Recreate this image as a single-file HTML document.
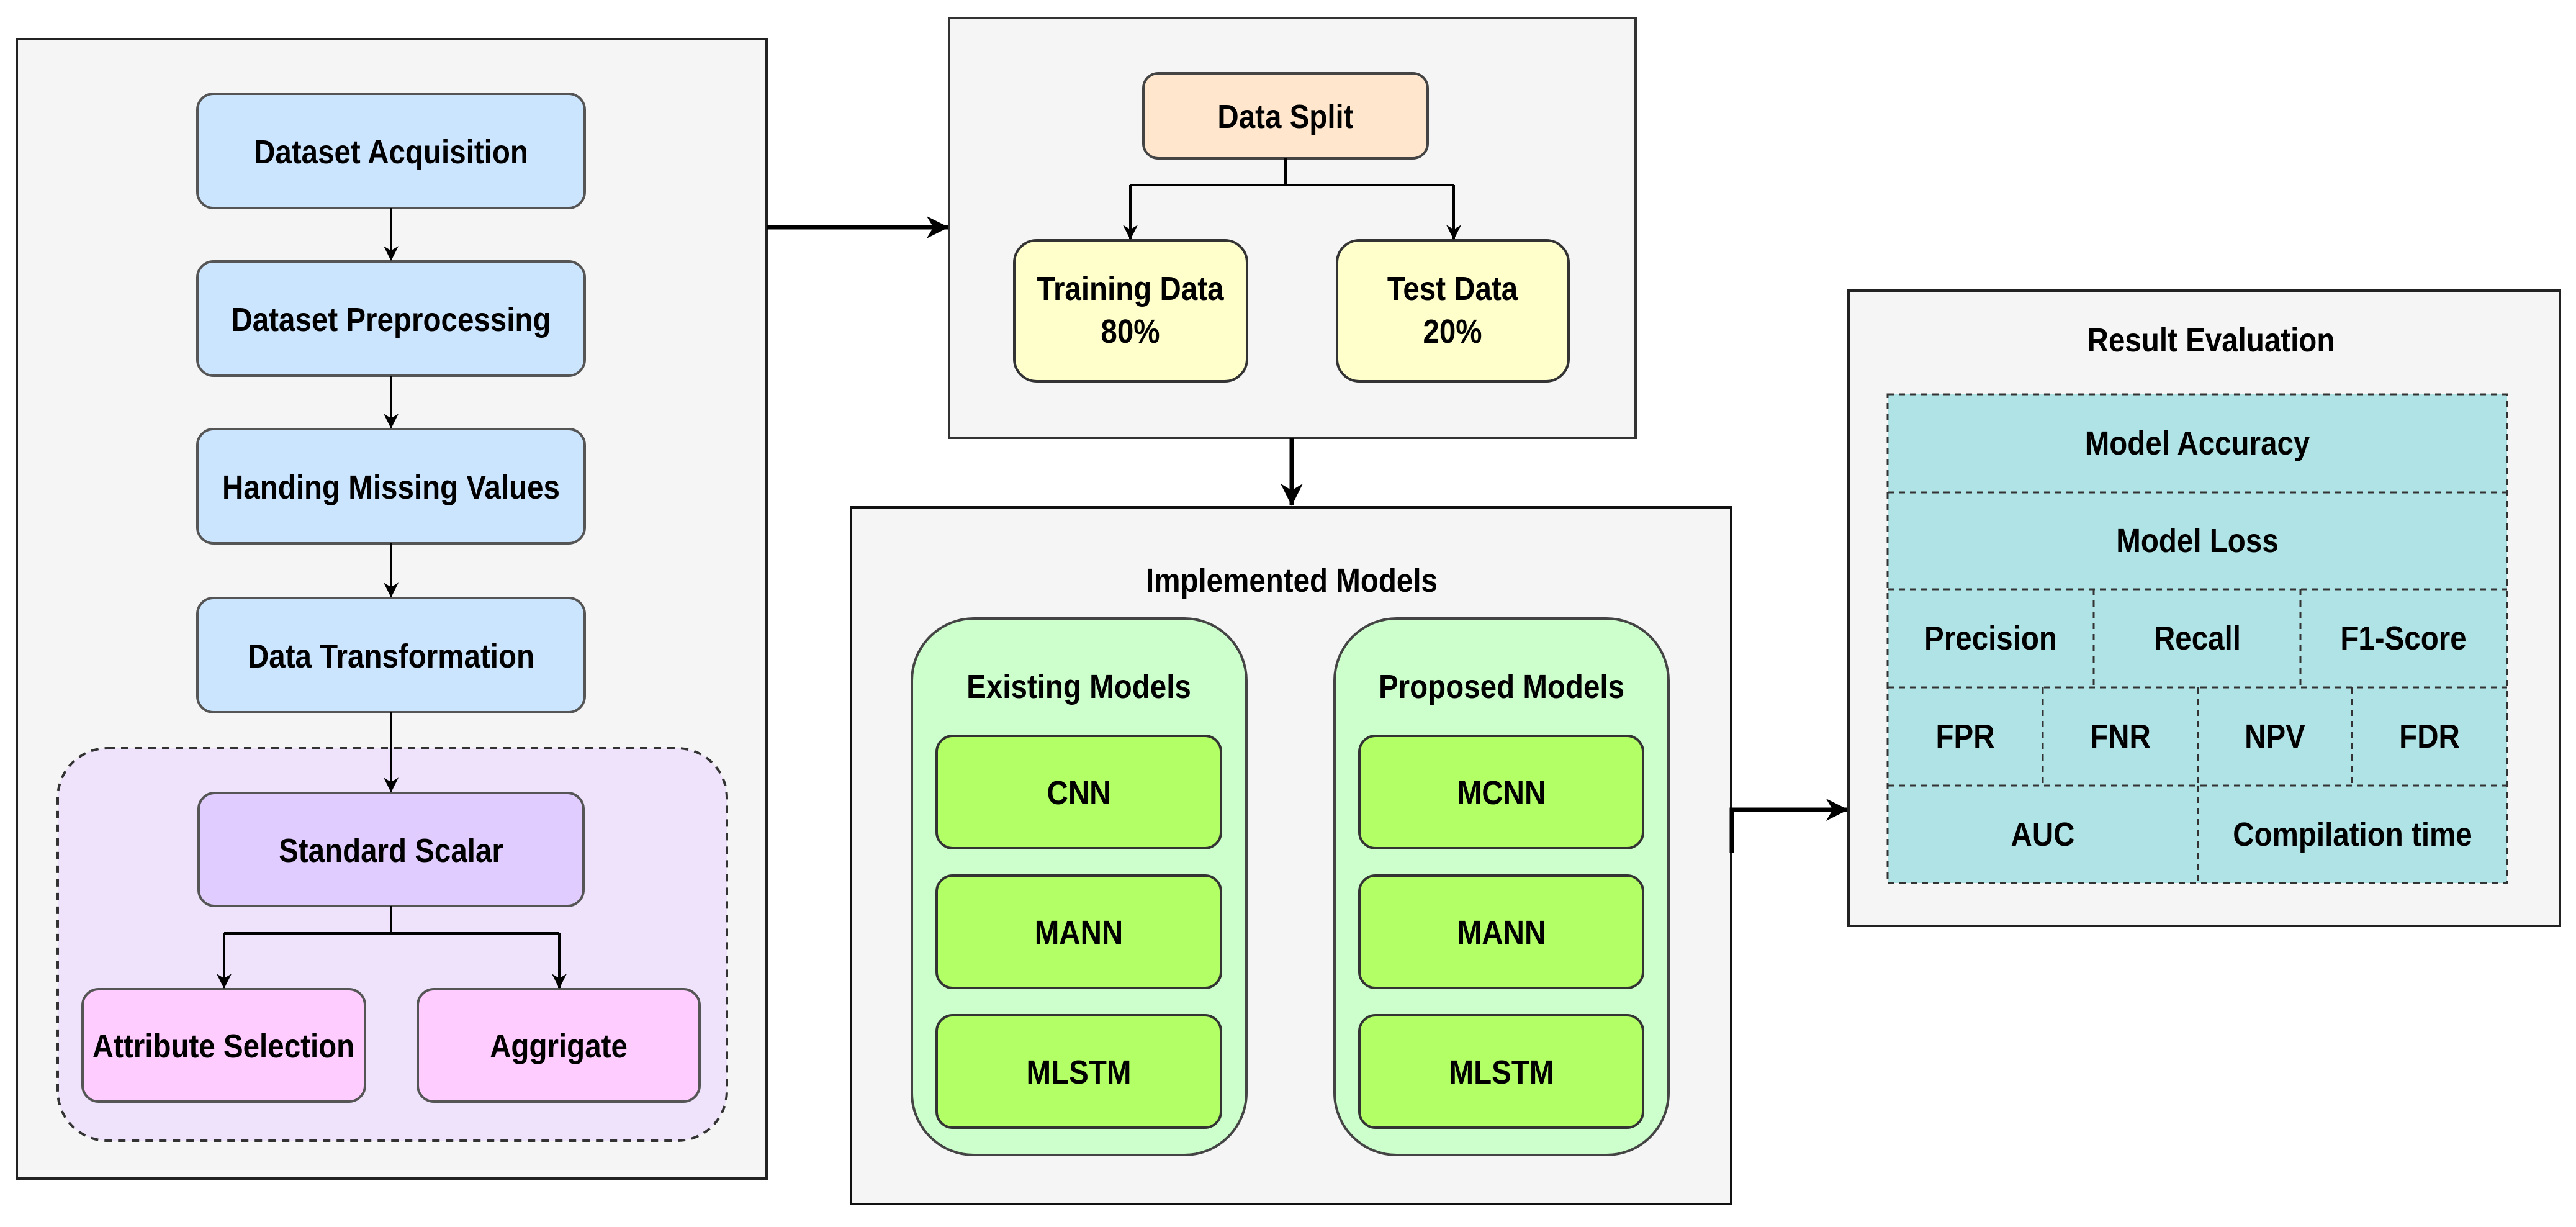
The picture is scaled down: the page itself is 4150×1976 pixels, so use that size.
<!DOCTYPE html>
<html><head><meta charset="utf-8"><style>
html,body{margin:0;padding:0;background:#fff;}
svg text{font-family:"Liberation Sans Narrow","Liberation Sans",sans-serif;font-weight:bold;fill:#000;transform-box:fill-box;transform-origin:center;transform:scaleX(0.88);}
</style></head><body>
<svg width="4150" height="1971" viewBox="0 0 4150 1971" xmlns="http://www.w3.org/2000/svg">
<defs>
<marker id="a" viewBox="0 0 20 20" refX="19" refY="10" markerWidth="24" markerHeight="24" markerUnits="userSpaceOnUse" orient="auto">
<path d="M0,0 L20,10 L0,20 L6,10 Z" fill="#000"/></marker>
<marker id="b" viewBox="0 0 20 20" refX="19" refY="10" markerWidth="36" markerHeight="36" markerUnits="userSpaceOnUse" orient="auto">
<path d="M0,0 L20,10 L0,20 L6,10 Z" fill="#000"/></marker>
</defs>
<rect width="4150" height="1971" fill="#fff"/>
<rect x="27" y="63" width="1208" height="1835" fill="#f5f5f5" stroke="#222" stroke-width="4"/>
<g stroke="#555" stroke-width="4">
<rect x="318" y="151" width="624" height="184" rx="26" fill="#cce5ff"/>
<rect x="318" y="421" width="624" height="184" rx="26" fill="#cce5ff"/>
<rect x="318" y="691" width="624" height="184" rx="26" fill="#cce5ff"/>
<rect x="318" y="963" width="624" height="184" rx="26" fill="#cce5ff"/>
</g>
<g stroke="#000" stroke-width="4" fill="none" marker-end="url(#a)">
<line x1="630" y1="335" x2="630" y2="419"/>
<line x1="630" y1="605" x2="630" y2="689"/>
<line x1="630" y1="875" x2="630" y2="961"/>
</g>
<rect x="93" y="1205" width="1078" height="632" rx="80" fill="#efe3fb" stroke="#333" stroke-width="4" stroke-dasharray="12,10"/>
<line x1="630" y1="1147" x2="630" y2="1275" stroke="#000" stroke-width="4" marker-end="url(#a)"/>
<g stroke="#555" stroke-width="4">
<rect x="320" y="1277" width="620" height="182" rx="26" fill="#e1ccff"/>
<rect x="133" y="1593" width="455" height="181" rx="26" fill="#ffccff"/>
<rect x="673" y="1593" width="454" height="181" rx="26" fill="#ffccff"/>
</g>
<g stroke="#000" stroke-width="4" fill="none">
<polyline points="630,1459 630,1503"/>
<polyline points="361,1503 901,1503"/>
<polyline points="361,1503 361,1591" marker-end="url(#a)"/>
<polyline points="901,1503 901,1591" marker-end="url(#a)"/>
</g>
<g font-size="54" text-anchor="middle">
<text x="630" y="263">Dataset Acquisition</text>
<text x="630" y="533">Dataset Preprocessing</text>
<text x="630" y="803">Handing Missing Values</text>
<text x="630" y="1075">Data Transformation</text>
<text x="630" y="1388">Standard Scalar</text>
<text x="360" y="1703">Attribute Selection</text>
<text x="900" y="1703">Aggrigate</text>
</g>
<line x1="1235" y1="366" x2="1527" y2="366" stroke="#000" stroke-width="7" marker-end="url(#b)"/>
<rect x="1529" y="29" width="1106" height="676" fill="#f5f5f5" stroke="#333" stroke-width="4"/>
<rect x="1842" y="118" width="458" height="137" rx="24" fill="#ffe6cc" stroke="#444" stroke-width="4"/>
<rect x="1634" y="387" width="375" height="227" rx="36" fill="#ffffcc" stroke="#333" stroke-width="4"/>
<rect x="2154" y="387" width="373" height="227" rx="36" fill="#ffffcc" stroke="#333" stroke-width="4"/>
<g stroke="#000" stroke-width="4" fill="none">
<polyline points="2071,255 2071,298"/>
<polyline points="1821,298 2342,298"/>
<polyline points="1821,298 1821,385" marker-end="url(#a)"/>
<polyline points="2342,298 2342,385" marker-end="url(#a)"/>
</g>
<g font-size="54" text-anchor="middle">
<text x="2071" y="206">Data Split</text>
<text x="1821" y="483">Training Data</text>
<text x="1821" y="552">80%</text>
<text x="2340" y="483">Test Data</text>
<text x="2340" y="552">20%</text>
</g>
<line x1="2081" y1="705" x2="2081" y2="813" stroke="#000" stroke-width="7" marker-end="url(#b)"/>
<rect x="1371" y="817" width="1418" height="1122" fill="#f5f5f5" stroke="#111" stroke-width="4"/>
<rect x="1469" y="996" width="539" height="864" rx="100" fill="#ccffcc" stroke="#444" stroke-width="4"/>
<rect x="2150" y="996" width="538" height="864" rx="100" fill="#ccffcc" stroke="#444" stroke-width="4"/>
<g stroke="#333" stroke-width="4" fill="#b3ff66">
<rect x="1509" y="1185" width="458" height="181" rx="26"/>
<rect x="1509" y="1410" width="458" height="181" rx="26"/>
<rect x="1509" y="1635" width="458" height="181" rx="26"/>
<rect x="2190" y="1185" width="457" height="181" rx="26"/>
<rect x="2190" y="1410" width="457" height="181" rx="26"/>
<rect x="2190" y="1635" width="457" height="181" rx="26"/>
</g>
<g font-size="54" text-anchor="middle">
<text x="2081" y="953">Implemented Models</text>
<text x="1738" y="1124">Existing Models</text>
<text x="2419" y="1124">Proposed Models</text>
<text x="1738" y="1295">CNN</text>
<text x="1738" y="1520">MANN</text>
<text x="1738" y="1745">MLSTM</text>
<text x="2419" y="1295">MCNN</text>
<text x="2419" y="1520">MANN</text>
<text x="2419" y="1745">MLSTM</text>
</g>
<polyline points="2790,1374 2790,1304 2976,1304" fill="none" stroke="#000" stroke-width="7" marker-end="url(#b)"/>
<rect x="2978" y="468" width="1146" height="1023" fill="#f5f5f5" stroke="#222" stroke-width="4"/>
<rect x="3041" y="635" width="998" height="787" fill="#b0e3e6"/>
<g stroke="#333" stroke-width="3" stroke-dasharray="10,8" fill="none">
<rect x="3041" y="635" width="998" height="787"/>
<line x1="3041" y1="793" x2="4039" y2="793"/>
<line x1="3041" y1="949" x2="4039" y2="949"/>
<line x1="3041" y1="1107" x2="4039" y2="1107"/>
<line x1="3041" y1="1265" x2="4039" y2="1265"/>
<line x1="3373" y1="949" x2="3373" y2="1107"/>
<line x1="3706" y1="949" x2="3706" y2="1107"/>
<line x1="3291" y1="1107" x2="3291" y2="1265"/>
<line x1="3541" y1="1107" x2="3541" y2="1265"/>
<line x1="3789" y1="1107" x2="3789" y2="1265"/>
<line x1="3541" y1="1265" x2="3541" y2="1422"/>
</g>
<g font-size="54" text-anchor="middle">
<text x="3562" y="566">Result Evaluation</text>
<text x="3540" y="732">Model Accuracy</text>
<text x="3540" y="889">Model Loss</text>
<text x="3207" y="1046">Precision</text>
<text x="3540" y="1046">Recall</text>
<text x="3872" y="1046">F1-Score</text>
<text x="3166" y="1204">FPR</text>
<text x="3416" y="1204">FNR</text>
<text x="3665" y="1204">NPV</text>
<text x="3914" y="1204">FDR</text>
<text x="3291" y="1362">AUC</text>
<text x="3790" y="1362">Compilation time</text>
</g>
</svg>
</body></html>
